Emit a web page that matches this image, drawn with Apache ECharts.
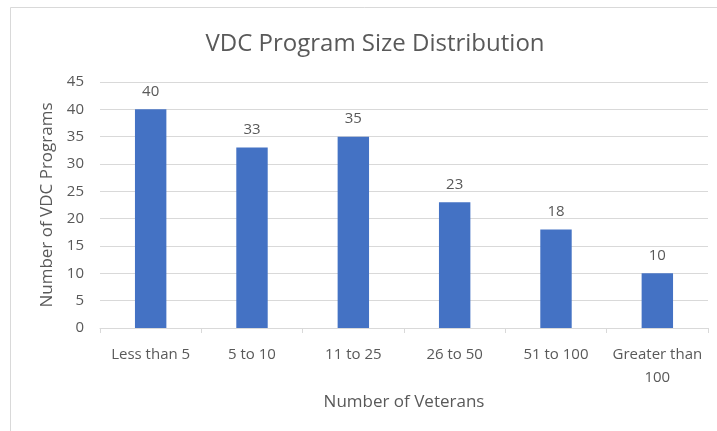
<!DOCTYPE html>
<html><head><meta charset="utf-8">
<script src="https://cdn.jsdelivr.net/npm/echarts@6/dist/echarts.min.js"></script>
<style>html,body{margin:0;padding:0;background:#fff}#c{width:717px;height:431px}</style>
</head><body><div id="c"></div>
<script>
var categories = ['Less than 5', '5 to 10', '11 to 25', '26 to 50', '51 to 100', 'Greater than\n100'];
var values = [40, 33, 35, 23, 18, 10];
var yTicks = { min: 0, max: 45, interval: 5 };
var titleText = 'VDC Program Size Distribution';
var xName = 'Number of Veterans';
var yName = 'Number of VDC Programs';

var FONT = '"Open Sans", "Noto Sans", sans-serif';
var chart = echarts.init(document.getElementById('c'));
chart.setOption({
  backgroundColor: '#fff',
  animation: false,
  graphic: [{ type: 'rect', shape: { x: 10.5, y: 7.5, width: 720, height: 440 }, style: { fill: 'none', stroke: '#d9d9d9', lineWidth: 1 } }],
  title: { text: titleText, left: 370, top: 27, textAlign: 'center',
    textStyle: { fontFamily: FONT, fontSize: 24, fontWeight: 'normal', color: '#595959' } },
  grid: { left: 100, right: 9, top: 82, bottom: 103 },
  xAxis: { type: 'category', data: categories, name: xName, nameLocation: 'middle', nameGap: 66,
    nameTextStyle: { fontFamily: FONT, fontSize: 17, color: '#595959' },
    axisLine: { lineStyle: { color: '#d9d9d9' } },
    axisTick: { show: true, alignWithLabel: false, length: 5, lineStyle: { color: '#d9d9d9' } },
    axisLabel: { fontFamily: FONT, fontSize: 15, color: '#595959', margin: 15, interval: 0, lineHeight: 23 } },
  yAxis: { type: 'value', min: yTicks.min, max: yTicks.max, interval: yTicks.interval,
    name: yName, nameLocation: 'middle', nameGap: 44,
    nameTextStyle: { fontFamily: FONT, fontSize: 17, color: '#595959' },
    axisLine: { show: false }, axisTick: { show: false },
    splitLine: { lineStyle: { color: '#d9d9d9' } },
    axisLabel: { fontFamily: FONT, fontSize: 15, color: '#595959', margin: 16 } },
  series: [{ type: 'bar', data: values, barWidth: '31%', itemStyle: { color: '#4472C4' },
    label: { show: true, position: 'top', distance: 10, fontFamily: FONT, fontSize: 15, color: '#595959' } }]
});
</script></body></html>
